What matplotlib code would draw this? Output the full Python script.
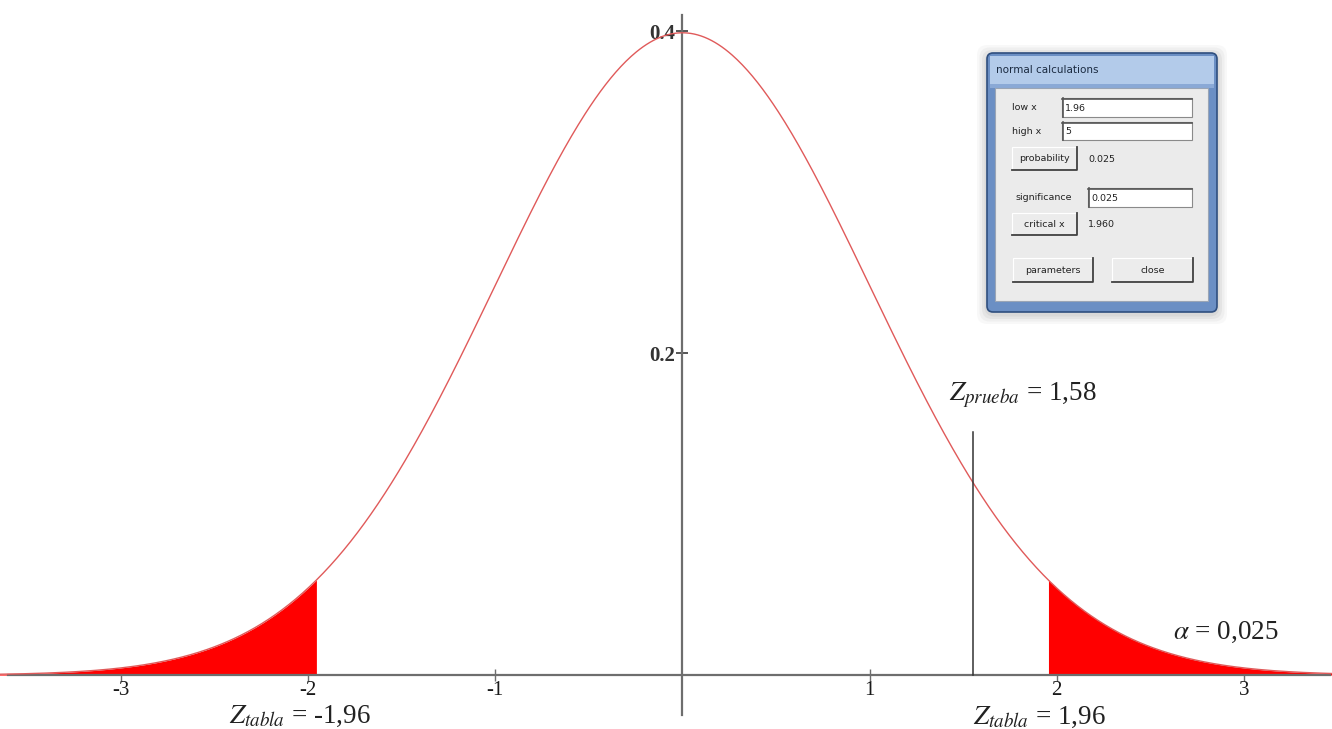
import numpy as np
import matplotlib
matplotlib.use("Agg")
import matplotlib.pyplot as plt
from matplotlib.patches import Rectangle, FancyBboxPatch

plt.rcParams['mathtext.fontset'] = 'stix'
plt.rcParams['font.family'] = ['Liberation Serif', 'DejaVu Serif']

# ---- data ----
mu, sigma = 0.0, 1.0
z_crit_low, z_crit_high = -1.95, 1.95
z_test = 1.55          # drawn position of the test statistic line
x_ticks = [-3, -2, -1, 1, 2, 3]
x_tick_labels = ["-3", "-2", "-1", "1", "2", "3"]
y_ticks = [0.2, 0.4]
y_tick_labels = ["0.2", "0.4"]
label_test = r"$Z_{prueba}$ = 1,58"
label_low = r"$Z_{tabla}$ = -1,96"
label_high = r"$Z_{tabla}$ = 1,96"
label_alpha = r"$\alpha$ = 0,025"

x = np.linspace(-3.7, 3.6, 800)
pdf = np.exp(-0.5 * ((x - mu) / sigma) ** 2) / (sigma * np.sqrt(2 * np.pi))

fig = plt.figure(figsize=(13.32, 7.29), dpi=100)
ax = fig.add_axes([0, 0, 1, 1])
ax.set_xlim(-3.645, 3.47)
ax.set_ylim(-0.0335, 0.4193)
ax.patch.set_visible(False)

for s in ['top', 'right']:
    ax.spines[s].set_visible(False)
ax.spines['left'].set_position(('data', 0))
ax.spines['bottom'].set_position(('data', 0))
ax.spines['left'].set_bounds(-0.0248, 0.41)
ax.spines['bottom'].set_bounds(-3.60, 3.46)
for s in ['left', 'bottom']:
    ax.spines[s].set_color('#6e6e6e')
    ax.spines[s].set_linewidth(1.6)

ax.set_xticks(x_ticks)
ax.set_xticklabels(x_tick_labels)
ax.set_yticks(y_ticks)
ax.set_yticklabels(y_tick_labels)
ax.tick_params(axis='x', direction='inout', length=9, width=1, colors='#6e6e6e',
               labelcolor='#1a1a1a', labelsize=15, pad=0)
ax.tick_params(axis='y', direction='inout', length=8, width=1.4, colors='#555555',
               labelcolor='#333333', labelsize=15, pad=1)
for lab in ax.get_yticklabels():
    lab.set_fontweight('bold')

# curve and tails
ax.plot(x, pdf, color='#e05a5a', lw=1.0, zorder=3)
mask_l = x <= z_crit_low
mask_r = x >= z_crit_high
ax.fill_between(x[mask_l], 0, pdf[mask_l], color='#ff0000', lw=0, zorder=2)
ax.fill_between(x[mask_r], 0, pdf[mask_r], color='#ff0000', lw=0, zorder=2)

# test statistic line
ax.plot([z_test, z_test], [0, 0.151], color='#333333', lw=1.1, zorder=4)

# annotations
ax.text(1.425, 0.174, label_test, fontsize=19.5, color='#222222', ha='left', va='center')
ax.text(2.62, 0.0265, label_alpha, fontsize=19.5, color='#222222', ha='left', va='center')
ax.text(-2.42, -0.0255, label_low, fontsize=19.5, color='#222222', ha='left', va='center')
ax.text(1.555, -0.0262, label_high, fontsize=19.5, color='#222222', ha='left', va='center')

# ---- dialog overlay in pixel coordinates ----
ov = fig.add_axes([0, 0, 1, 1], zorder=5)
ov.set_xlim(0, 1332)
ov.set_ylim(729, 0)
ov.axis('off')
ov.patch.set_visible(False)

for i, a in enumerate([0.05, 0.07, 0.09, 0.11]):
    d = 10 - i * 2.5
    ov.add_patch(FancyBboxPatch((987 - d, 53 - d + 2), 230 + 2 * d, 259 + 2 * d,
                                boxstyle="round,pad=0,rounding_size=10",
                                fc='#808080', ec='none', alpha=a))
ov.add_patch(FancyBboxPatch((987, 53), 230, 259, boxstyle="round,pad=0,rounding_size=6",
                            fc='#6b8fc4', ec='#2f4f7f', lw=1.2))
ov.add_patch(Rectangle((990, 56), 224, 28, fc='#b3cbea', ec='none'))
ov.add_patch(Rectangle((990, 84), 224, 4, fc='#8aa9d6', ec='none'))
ov.text(996, 70, "normal calculations", fontsize=7.5, family='DejaVu Sans',
        color='#1a2a40', va='center', ha='left')
ov.add_patch(Rectangle((995, 88), 213, 213, fc='#ebebeb', ec='#9aa5b5', lw=0.8))

sans = 'DejaVu Sans'
fs = 6.8


def field(x0, y0, w, h, txt):
    ov.add_patch(Rectangle((x0, y0), w, h, fc='white', ec='#8a8a8a', lw=0.8))
    ov.plot([x0, x0 + w], [y0 + 0.8, y0 + 0.8], color='#555555', lw=1.2)
    ov.plot([x0 + 0.8, x0 + 0.8], [y0, y0 + h], color='#555555', lw=1.2)
    ov.text(x0 + 3, y0 + h / 2 + 0.5, txt, fontsize=fs, family=sans, color='#222222',
            va='center', ha='left')


def button(x0, y0, w, h, txt):
    ov.add_patch(Rectangle((x0, y0), w, h, fc='#ececec', ec='#ffffff', lw=0.8))
    ov.plot([x0, x0 + w, x0 + w], [y0 + h, y0 + h, y0], color='#404040', lw=1.3)
    ov.text(x0 + w / 2, y0 + h / 2, txt, fontsize=fs, family=sans, color='#222222',
            va='center', ha='center')


ov.text(1012, 107, "low x", fontsize=fs, family=sans, color='#222222', va='center')
field(1062, 98, 130, 19, "1.96")
ov.text(1012, 131, "high x", fontsize=fs, family=sans, color='#222222', va='center')
field(1062, 122, 130, 18, "5")
button(1012, 147, 65, 23, "probability")
ov.text(1088, 159, "0.025", fontsize=fs, family=sans, color='#222222', va='center')
ov.text(1015, 197, "significance", fontsize=fs, family=sans, color='#222222', va='center')
field(1088, 188, 104, 19, "0.025")
button(1012, 213, 65, 22, "critical x")
ov.text(1088, 224, "1.960", fontsize=fs, family=sans, color='#222222', va='center')
button(1013, 258, 80, 24, "parameters")
button(1112, 258, 81, 24, "close")

fig.savefig("out.png", dpi=100)
